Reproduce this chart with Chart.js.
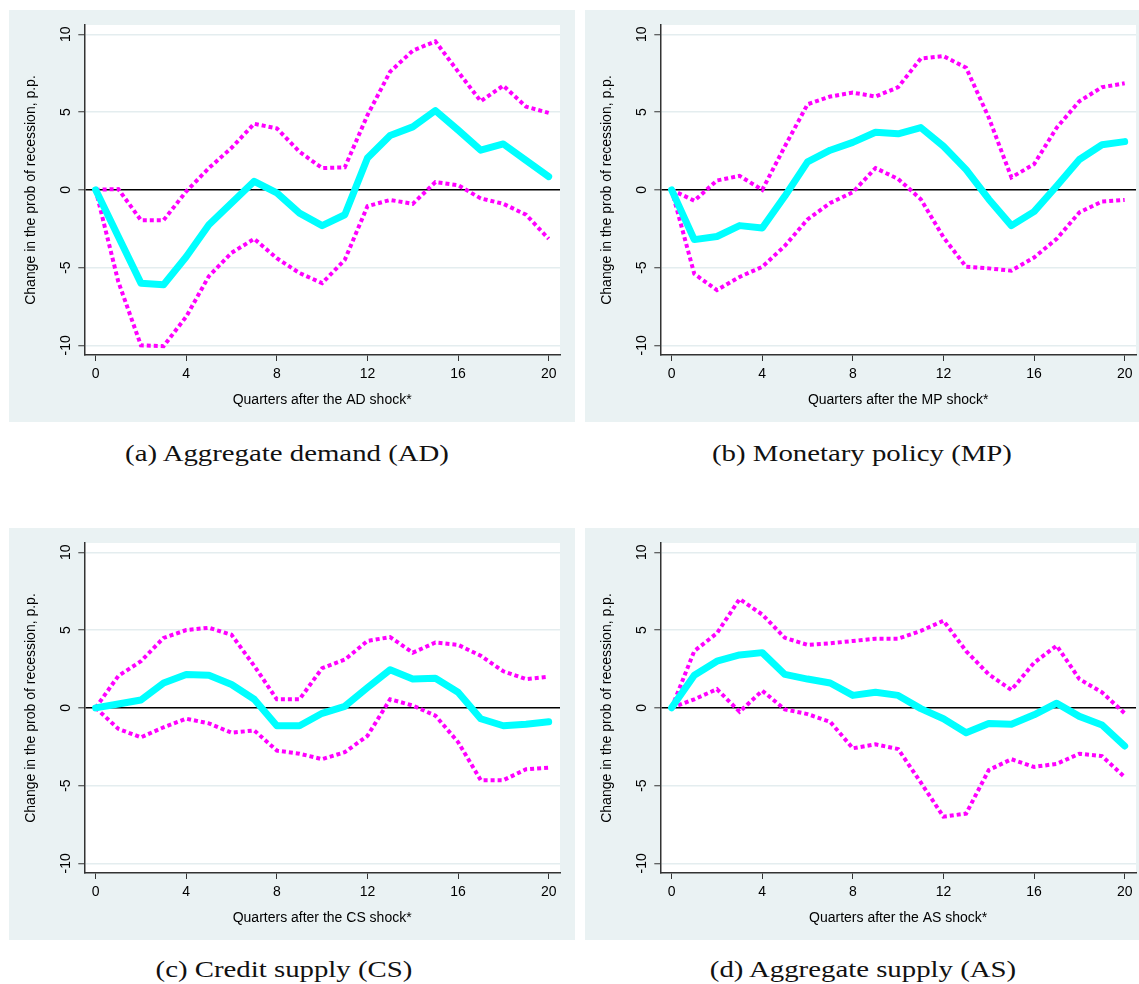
<!DOCTYPE html>
<html>
<head>
<meta charset="utf-8">
<script src="https://cdn.jsdelivr.net/npm/chart.js@4/dist/chart.umd.min.js"></script>
<style>
  html, body { margin: 0; padding: 0; background: #ffffff; }
  body { width: 1139px; height: 984px; overflow: hidden; position: relative; }
  canvas.panel { position: absolute; }
  .cap { position: absolute; width: 500px; text-align: center; font-family: "Liberation Serif", "Times New Roman", serif;
         font-size: 24px; line-height: 26px; color: #111; white-space: nowrap; transform: scaleX(1.2); transform-origin: 50% 50%; }
</style>
</head>
<body>
<canvas id="cA" class="panel" width="566" height="412" style="left:9px;top:10px;"></canvas>
<canvas id="cB" class="panel" width="566" height="412" style="left:585px;top:10px;"></canvas>
<canvas id="cC" class="panel" width="566" height="412" style="left:9px;top:528px;"></canvas>
<canvas id="cD" class="panel" width="566" height="412" style="left:585px;top:528px;"></canvas>
<div class="cap" style="left:37px;top:440px;">(a) Aggregate demand (AD)</div>
<div class="cap" style="left:612px;top:440px;">(b) Monetary policy (MP)</div>
<div class="cap" style="left:34px;top:956px;">(c) Credit supply (CS)</div>
<div class="cap" style="left:613px;top:956px;">(d) Aggregate supply (AS)</div>
<script>
// ---- data ----
const quarters = [0,1,2,3,4,5,6,7,8,9,10,11,12,13,14,15,16,17,18,19,20];
const xTicks = [0,4,8,12,16,20];
const yTicks = [-10,-5,0,5,10];
const yTitle = "Change in the prob of recession, p.p.";

const adMid   = [0,-3.0,-6.0,-6.1,-4.3,-2.25,-0.85,0.55,-0.2,-1.5,-2.3,-1.6,2.05,3.5,4.05,5.1,3.85,2.55,2.95,1.9,0.85];
const adUpper = [0,0.05,-1.95,-1.95,-0.1,1.4,2.7,4.25,3.95,2.45,1.4,1.45,4.8,7.6,8.95,9.55,7.6,5.7,6.7,5.35,4.95];
const adLower = [0,-5.9,-10.0,-10.05,-8.15,-5.55,-4.05,-3.15,-4.4,-5.35,-6.0,-4.5,-1.05,-0.65,-0.9,0.5,0.3,-0.55,-0.9,-1.6,-3.15];

const mpMid   = [0,-3.2,-3.0,-2.3,-2.45,-0.4,1.8,2.55,3.05,3.7,3.6,4.0,2.8,1.3,-0.6,-2.3,-1.4,0.25,1.95,2.9,3.1];
const mpUpper = [0,-0.7,0.6,0.9,0,2.8,5.5,6.0,6.25,6.0,6.6,8.45,8.6,7.85,4.65,0.8,1.65,4.0,5.7,6.6,6.85];
const mpLower = [0,-5.4,-6.45,-5.6,-4.95,-3.6,-1.9,-0.85,-0.15,1.4,0.7,-0.6,-3.05,-4.95,-5.05,-5.2,-4.35,-3.15,-1.45,-0.75,-0.65];

const csMid   = [0,0.25,0.5,1.6,2.15,2.1,1.5,0.55,-1.15,-1.15,-0.35,0.1,1.3,2.45,1.85,1.9,1.0,-0.7,-1.15,-1.05,-0.9];
const csUpper = [0,2.05,3.0,4.5,5.0,5.15,4.7,2.7,0.55,0.55,2.55,3.1,4.3,4.55,3.55,4.2,4.05,3.35,2.35,1.85,2.0];
const csLower = [0,-1.35,-1.9,-1.25,-0.7,-1.0,-1.6,-1.45,-2.75,-2.95,-3.3,-2.85,-1.8,0.55,0.15,-0.5,-2.2,-4.65,-4.65,-3.95,-3.85];

const asMid   = [0,2.1,3.0,3.4,3.55,2.15,1.85,1.6,0.8,1.0,0.8,-0.05,-0.7,-1.6,-1.0,-1.05,-0.45,0.3,-0.55,-1.1,-2.45];
const asUpper = [0,3.65,4.8,7.0,6.0,4.5,4.05,4.15,4.3,4.45,4.45,4.95,5.6,3.65,2.15,1.15,2.9,4.0,1.85,1.0,-0.35];
const asLower = [0,0.55,1.2,-0.25,1.1,-0.1,-0.4,-0.9,-2.6,-2.35,-2.65,-4.8,-7.0,-6.8,-4.0,-3.3,-3.8,-3.6,-2.95,-3.1,-4.45];

// ---- styles ----
const BG = '#eaf2f3';
const CYAN = '#00ffff';
const MAGENTA = '#ff00ff';
const AXIS = '#333333';
Chart.defaults.font.family = '"Liberation Sans", Arial, sans-serif';
Chart.defaults.color = '#000';

const bgPlugin = {
  id: 'bg',
  beforeDraw(chart) {
    const {ctx, chartArea: a} = chart;
    ctx.save();
    ctx.fillStyle = BG;
    ctx.fillRect(0, 0, chart.width, chart.height);
    ctx.fillStyle = '#ffffff';
    ctx.fillRect(a.left, a.top, a.right - a.left, a.bottom - a.top);
    ctx.restore();
  }
};

function makeChart(id, shock, mid, upper, lower) {
  return new Chart(document.getElementById(id), {
    type: 'line',
    data: {
      labels: quarters,
      datasets: [
        { data: mid, borderColor: CYAN, borderWidth: 7, borderCapStyle: 'round', borderJoinStyle: 'round', pointRadius: 0, tension: 0 },
        { data: upper, borderColor: MAGENTA, borderWidth: 4, borderDash: [4, 3], borderCapStyle: 'butt', pointRadius: 0, tension: 0 },
        { data: lower, borderColor: MAGENTA, borderWidth: 4, borderDash: [4, 3], borderCapStyle: 'butt', pointRadius: 0, tension: 0 }
      ]
    },
    options: {
      responsive: false,
      animation: false,
      devicePixelRatio: 1,
      layout: { padding: { top: 15, right: 15, left: 0, bottom: 0 } },
      plugins: { legend: { display: false }, tooltip: { enabled: false } },
      scales: {
        x: {
          type: 'linear', min: -0.5, max: 20.5,
          afterBuildTicks(s) { s.ticks = xTicks.map(v => ({ value: v })); },
          afterFit(s) { s.height = 67; },
          ticks: { font: { size: 14 }, padding: 5, maxRotation: 0, autoSkip: false },
          grid: { drawOnChartArea: false, tickLength: 6, tickColor: AXIS, tickWidth: 1 },
          border: { display: true, color: AXIS, width: 1.5 },
          title: { display: true, text: 'Quarters after the ' + shock + ' shock*', font: { size: 14 }, padding: { top: 0, bottom: 13.5 } }
        },
        y: {
          type: 'linear', min: -10.62, max: 10.6,
          afterBuildTicks(s) { s.ticks = yTicks.map(v => ({ value: v })); },
          afterFit(s) { s.width = 75.3; },
          ticks: { font: { size: 14 }, padding: 2, minRotation: 90, maxRotation: 90, crossAlign: 'center', autoSkip: false },
          grid: {
            color: c => (c.tick && c.tick.value === 0) ? '#000000' : '#e4edef',
            lineWidth: c => (c.tick && c.tick.value === 0) ? 1.6 : 1.5,
            tickLength: 6, tickColor: AXIS, tickWidth: 1
          },
          border: { display: true, color: AXIS, width: 1.5 },
          title: { display: true, text: yTitle, font: { size: 14 }, padding: { top: 14, bottom: 0 } }
        }
      }
    },
    plugins: [bgPlugin]
  });
}

makeChart('cA', 'AD', adMid, adUpper, adLower);
makeChart('cB', 'MP', mpMid, mpUpper, mpLower);
makeChart('cC', 'CS', csMid, csUpper, csLower);
makeChart('cD', 'AS', asMid, asUpper, asLower);
</script>
</body>
</html>
